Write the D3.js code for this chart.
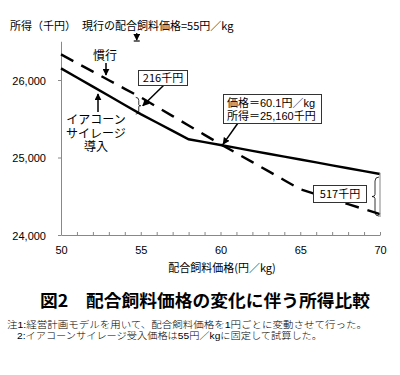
<!DOCTYPE html>
<html><head><meta charset="utf-8">
<script src="https://cdn.jsdelivr.net/npm/d3@7"></script>
<style>
html,body{margin:0;padding:0;background:#fff;}
svg{display:block;}
text{font-family:"Noto Sans CJK JP","Noto Sans",sans-serif;fill:#000;}
.num{font-family:"Liberation Sans","Noto Sans CJK JP",sans-serif;}
.tight{font-family:"Liberation Sans","Noto Sans CJK JP",sans-serif;}
</style></head>
<body>
<script>
// ---- data ----
const prices = [50,51,52,53,54,55,56,57,58,59,60,61,62,63,64,65,66,67,68,69,70];
const silage = [26150,26032,25914,25796,25678,25560,25452,25344,25235,25198,25161,25124,25086,25049,25012,24974,24937,24899,24862,24824,24787];
const conventional = [26330,26219,26108,25997,25886,25776,25655,25534,25413,25292,25172,25056,24940,24824,24707,24590,24526,24462,24398,24334,24270];
const xTicks = [50,55,60,65,70];
const yTicks = [24000,25000,26000];
const crossPrice = 60.1, crossIncome = 25160;

const W = 400, H = 375;
const svg = d3.select("body").append("svg").attr("width", W).attr("height", H);

const x = d3.scaleLinear().domain([50,70]).range([61,380]);
const y = d3.scaleLinear().domain([24000,26500]).range([235,41.25]);

svg.append("defs").append("marker")
  .attr("id","ah").attr("viewBox","0 0 10 10").attr("refX",9).attr("refY",5)
  .attr("markerWidth",7).attr("markerHeight",7).attr("markerUnits","userSpaceOnUse")
  .attr("orient","auto")
  .append("path").attr("d","M0,0 L10,5 L0,10 z").attr("fill","#000");

// axes
const gx = svg.append("g").attr("transform",`translate(0,${y(24000)})`)
  .call(d3.axisBottom(x).tickValues(d3.range(50,71,1)).tickSizeInner(-3).tickSizeOuter(0).tickFormat(""));
gx.select(".domain").attr("stroke","#888");
gx.selectAll(".tick line").attr("stroke","#888");

const gxl = svg.append("g").attr("transform",`translate(0,${y(24000)})`)
  .call(d3.axisBottom(x).tickValues(xTicks).tickSize(0).tickPadding(11).tickFormat(d3.format("d")));
gxl.select(".domain").remove();
gxl.selectAll("text").attr("class","num").style("font-size","11px").attr("fill","#000");

const gy = svg.append("g").attr("transform",`translate(${x(50)},0)`)
  .call(d3.axisLeft(y).tickValues(yTicks).tickSizeInner(3).tickSizeOuter(0).tickPadding(12).tickFormat(d3.format(",")));
gy.select(".domain").attr("stroke","#888");
gy.selectAll(".tick line").attr("stroke","#888");
gy.selectAll("text").attr("class","num").style("font-size","11px").attr("fill","#000").attr("dy","0.4em");

// lines
const line = d3.line().x((d,i)=>x(prices[i])).y(d=>y(d));
svg.append("path").datum(conventional).attr("d",line)
  .attr("fill","none").attr("stroke","#000").attr("stroke-width",2.4).attr("stroke-dasharray","14,9");
svg.append("path").datum(silage).attr("d",line)
  .attr("fill","none").attr("stroke","#000").attr("stroke-width",2.4);

// axis titles
svg.append("text").attr("x",10).attr("y",30).style("font-size","11px").text("所得（千円）");
svg.append("text").attr("x",82).attr("y",30).style("font-size","11px").text("現行の配合飼料価格=55円／kg");
svg.append("text").attr("x",222).attr("y",272).attr("text-anchor","middle").style("font-size","11px").text("配合飼料価格(円／kg)");

// current price marker arrow
const ax = x(55)-4;
svg.append("line").attr("x1",ax).attr("x2",ax).attr("y1",33).attr("y2",40)
  .attr("stroke","#000").attr("stroke-width",1.2).attr("marker-end","url(#ah)");
svg.append("line").attr("x1",ax-3).attr("x2",ax+3).attr("y1",41).attr("y2",41).attr("stroke","#000").attr("stroke-width",1.2);

// 慣行 label
svg.append("text").attr("x",105).attr("y",60).attr("text-anchor","middle").style("font-size","12px").text("慣行");
svg.append("line").attr("x1",106).attr("x2",106).attr("y1",63).attr("y2",75)
  .attr("stroke","#000").attr("stroke-width",1.5).attr("marker-end","url(#ah)");

// イアコーンサイレージ導入 label (three lines)
["イアコーン","サイレージ","導入"].forEach((t,i)=>{
  svg.append("text").attr("class","tight").attr("x",96).attr("y",124+i*13.5)
    .attr("text-anchor","middle").style("font-size","12px").text(t);
});
svg.append("line").attr("x1",98).attr("x2",98).attr("y1",112).attr("y2",94)
  .attr("stroke","#000").attr("stroke-width",1.5).attr("marker-end","url(#ah)");

// 216 brace at price 55
const bx = x(55)-3, bt = y(conventional[5]), bb = y(silage[5]), bm = (bt+bb)/2;
svg.append("path").attr("d",`M${bx-2},${bt} Q${bx+1},${bt} ${bx+1},${bt+3} L${bx+1},${bm-1} Q${bx+1},${bm} ${bx+3},${bm} Q${bx+1},${bm} ${bx+1},${bm+1} L${bx+1},${bb-3} Q${bx+1},${bb} ${bx-2},${bb}`)
  .attr("fill","none").attr("stroke","#000").attr("stroke-width",0.8);
svg.append("line").attr("x1",164).attr("y1",85).attr("x2",bx+5).attr("y2",bm)
  .attr("stroke","#000").attr("stroke-width",1.5).attr("marker-end","url(#ah)");
svg.append("rect").attr("x",138.5).attr("y",70.5).attr("width",49).attr("height",15)
  .attr("fill","#fff").attr("stroke","#333").attr("stroke-width",1);
svg.append("text").attr("x",163).attr("y",82).attr("text-anchor","middle").style("font-size","11px").text("216千円");

// crossing callout
svg.append("line").attr("x1",238).attr("y1",123).attr("x2",x(crossPrice)+1).attr("y2",y(crossIncome)-1)
  .attr("stroke","#000").attr("stroke-width",1.5).attr("marker-end","url(#ah)");
svg.append("rect").attr("x",223.5).attr("y",94.5).attr("width",98).attr("height",29)
  .attr("fill","#fff").attr("stroke","#333").attr("stroke-width",1);
svg.append("text").attr("class","tight").attr("x",227).attr("y",107).style("font-size","11px").text("価格＝60.1円／kg");
svg.append("text").attr("class","tight").attr("x",227).attr("y",120).style("font-size","11px").text("所得＝25,160千円");

// 517 at price 70
const rx = x(70);
svg.append("line").attr("x1",rx).attr("x2",rx).attr("y1",y(silage[20])-1).attr("y2",y(conventional[20])+3)
  .attr("stroke","#999").attr("stroke-width",1.2);
const ct = y(silage[20])+3, cb = y(conventional[20])+2, cm = (ct+cb)/2, cx = rx-5;
svg.append("path").attr("d",`M${cx+4},${ct} Q${cx},${ct} ${cx},${ct+4} L${cx},${cm-2} Q${cx},${cm} ${cx-3},${cm} Q${cx},${cm} ${cx},${cm+2} L${cx},${cb-4} Q${cx},${cb} ${cx+4},${cb}`)
  .attr("fill","none").attr("stroke","#000").attr("stroke-width",0.8);
svg.append("rect").attr("x",313.5).attr("y",185.5).attr("width",53).attr("height",17)
  .attr("fill","#fff").attr("stroke","#333").attr("stroke-width",1);
svg.append("text").attr("x",340).attr("y",198).attr("text-anchor","middle").style("font-size","11px").text("517千円");

// figure title and notes
svg.append("text").attr("x",40).attr("y",307).style("font-size","16.5px").style("font-weight","600")
  .attr("textLength",330).attr("lengthAdjust","spacingAndGlyphs").text("図2　配合飼料価格の変化に伴う所得比較");
svg.append("text").attr("class","tight").attr("x",7).attr("y",328).style("font-size","9.5px").style("font-weight","300")
  .attr("textLength",360).attr("lengthAdjust","spacingAndGlyphs").text("注1:経営計画モデルを用いて、配合飼料価格を1円ごとに変動させて行った。");
svg.append("text").attr("class","tight").attr("x",17).attr("y",339).style("font-size","9.5px").style("font-weight","300")
  .attr("textLength",305).attr("lengthAdjust","spacingAndGlyphs").text("2:イアコーンサイレージ受入価格は55円／kgに固定して試算した。");
</script>
</body></html>
